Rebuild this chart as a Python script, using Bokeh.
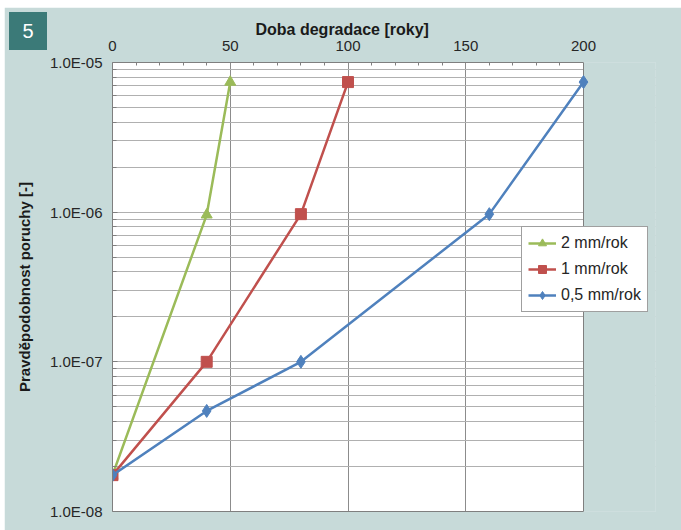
import math
from bokeh.plotting import figure
from bokeh.layouts import column
from bokeh.models import (FixedTicker, CustomJSTickFormatter, Legend, Div,
                          LegendItem, Range1d, Title, BoxAnnotation, Span,
                          LinearAxis)
from bokeh.embed import file_html
from bokeh.resources import INLINE

# ---- data ----
years_2mm = [0, 40, 50]
prob_2mm = [1.75e-8, 9.6e-7, 7.4e-6]
years_1mm = [0, 40, 80, 100]
prob_1mm = [1.75e-8, 1.0e-7, 9.7e-7, 7.4e-6]
years_05mm = [0, 40, 80, 160, 200]
prob_05mm = [1.75e-8, 4.7e-8, 1.0e-7, 9.7e-7, 7.4e-6]
series_names = ["2 mm/rok", "1 mm/rok", "0,5 mm/rok"]
x_ticks = [0, 50, 100, 150, 200]
x_minor_ticks = [10, 20, 30, 40, 60, 70, 80, 90, 110, 120, 130, 140, 160, 170, 180, 190]
y_ticks = [1e-8, 1e-7, 1e-6, 1e-5]
y_tick_labels = ["1.0E-08", "1.0E-07", "1.0E-06", "1.0E-05"]
y_minor_mantissas = [2, 3, 4, 5, 6, 7, 8, 9]
x_title = "Doba degradace [roky]"
y_title = "Pravděpodobnost poruchy [-]"
badge_text = "5"
x_min, x_max = 0, 200

FONT = "Liberation Sans"
PANEL = "#c7dad9"
BADGE = "#3b7a78"
GREEN = "#9bbb59"
RED = "#c0504d"
BLUE = "#4f81bd"
AXIS = "#7f7f7f"

y_minor = [m * t for t in y_ticks[:-1] for m in y_minor_mantissas]

# plot area is 471 px wide for 0..200; the frame is widened so the legend
# can sit across the right edge of the plot area (as in the reference)
PLOT_W = 471
FRAME_W = 543
x_end = x_max * FRAME_W / PLOT_W

p = figure(output_backend="svg", toolbar_location=None,
           x_range=Range1d(x_min, x_end), y_range=Range1d(y_ticks[0], y_ticks[-1]),
           y_axis_type="log", x_axis_location="above",
           frame_width=FRAME_W, frame_height=449,
           min_border_left=108, min_border_right=26,
           min_border_top=55, min_border_bottom=19)
p.styles = {"margin-left": "4px", "margin-top": "7px"}

p.background_fill_color = PANEL
p.border_fill_color = PANEL
p.outline_line_color = None

# white plot area 0..200 (drawn beneath the grid)
p.add_layout(BoxAnnotation(left=x_min, right=x_max,
                           bottom=y_ticks[0] / 10, top=y_ticks[-1] * 10,
                           fill_color="white", fill_alpha=1.0,
                           line_color=None, level="image"))

# x axis (top)
xa = p.xaxis[0]
xa.bounds = (x_min, x_max)
xa.ticker = FixedTicker(ticks=x_ticks, minor_ticks=x_minor_ticks)
xa.major_tick_in = 0
xa.major_tick_out = 0
xa.minor_tick_in = 3
xa.minor_tick_out = 0
xa.minor_tick_line_color = AXIS
xa.axis_line_color = AXIS
xa.major_label_text_font = FONT
xa.major_label_text_font_size = "15px"
xa.major_label_text_color = "#262626"
xa.major_label_standoff = 12

# bottom border of the plot area
xb = LinearAxis(ticker=FixedTicker(ticks=[]), bounds=(x_min, x_max),
                axis_line_color=AXIS, major_tick_in=0, major_tick_out=0,
                minor_tick_in=0, minor_tick_out=0, major_label_standoff=0)
p.add_layout(xb, "below")

# y axis (log)
ya = p.yaxis[0]
ya.ticker = FixedTicker(ticks=y_ticks, minor_ticks=y_minor)
ya.formatter = CustomJSTickFormatter(args=dict(labels=y_tick_labels), code="""
    const i = Math.round(Math.log10(tick)) + 8;
    return labels[i];
""")
ya.major_tick_in = 5
ya.major_tick_out = 0
ya.minor_tick_in = 4
ya.minor_tick_out = 0
ya.major_tick_line_color = AXIS
ya.minor_tick_line_color = AXIS
ya.axis_line_color = AXIS
ya.major_label_text_font = FONT
ya.major_label_text_font_size = "15px"
ya.major_label_text_color = "#262626"
ya.major_label_standoff = 10
ya.axis_label = y_title
ya.axis_label_text_font = FONT
ya.axis_label_text_font_size = "15px"
ya.axis_label_text_font_style = "bold"
ya.axis_label_text_color = "#1a1a1a"
ya.axis_label_standoff = 14

# grids
p.xgrid.grid_line_color = "#8c8c8c"
p.ygrid.grid_line_color = "#b0b0b0"
p.ygrid.minor_grid_line_color = "#b0b0b0"

# hide grid lines in the widened part of the frame, then the right border
p.add_layout(BoxAnnotation(left=x_max, right=x_end * 1.2,
                           bottom=y_ticks[0] / 10, top=y_ticks[-1] * 10,
                           fill_color=PANEL, fill_alpha=1.0,
                           line_color=None, level="underlay"))
p.add_layout(Span(location=x_max, dimension="height", line_color=AXIS,
                  line_width=1, level="underlay"))

# series
lw = 2.5
l1 = p.line(years_2mm, prob_2mm, line_color=GREEN, line_width=lw)
s1 = p.scatter(years_2mm, prob_2mm, marker="triangle", size=11,
               fill_color=GREEN, line_color=GREEN)
l2 = p.line(years_1mm, prob_1mm, line_color=RED, line_width=lw)
s2 = p.scatter(years_1mm, prob_1mm, marker="square", size=11,
               fill_color=RED, line_color=RED)
l3 = p.line(years_05mm, prob_05mm, line_color=BLUE, line_width=lw)
s3 = p.scatter(years_05mm, prob_05mm, marker="diamond", size=13,
               fill_color=BLUE, line_color=BLUE)

legend = Legend(items=[
    LegendItem(label=series_names[0], renderers=[l1, s1]),
    LegendItem(label=series_names[1], renderers=[l2, s2]),
    LegendItem(label=series_names[2], renderers=[l3, s3]),
], location=(409, 199))
legend.label_text_font = FONT
legend.label_text_font_size = "16px"
legend.label_text_color = "#262626"
legend.glyph_width = 28
legend.glyph_height = 20
legend.spacing = 6
legend.padding = 6
legend.margin = 0
legend.label_standoff = 5
legend.border_line_color = "#404040"
legend.border_line_width = 1
legend.background_fill_color = "white"
legend.background_fill_alpha = 1.0
p.add_layout(legend)

# x title
p.add_layout(Title(text=x_title, align="left", offset=143, standoff=0,
                   text_font=FONT, text_font_size="16px", text_font_style="bold",
                   text_color="#1a1a1a"), "above")

# badge "5" in the top-left corner
badge = Div(text=badge_text, width=38, height=38, styles={
    "position": "absolute", "left": "4px", "top": "7px", "z-index": "10",
    "background-color": BADGE, "color": "white", "font-family": FONT,
    "font-size": "20px", "line-height": "38px", "text-align": "center",
})

root = column(badge, p)
open("out.html", "w").write(file_html(root, INLINE))
